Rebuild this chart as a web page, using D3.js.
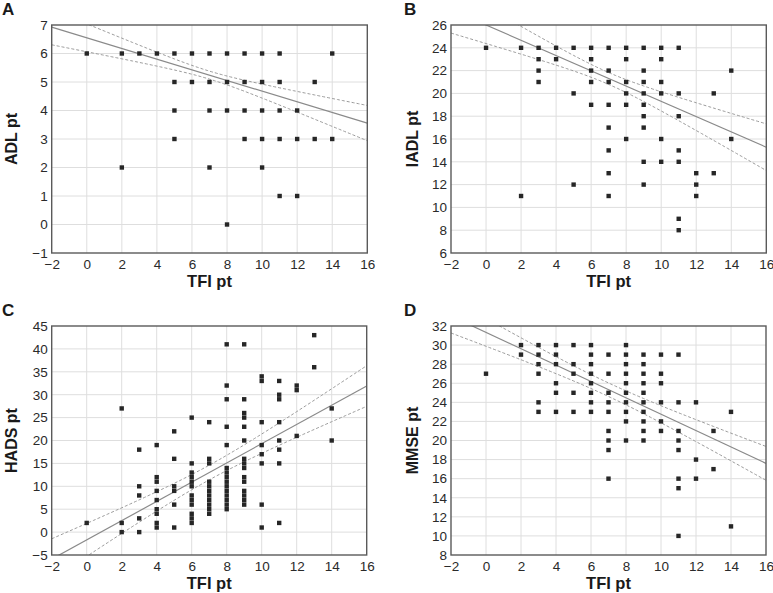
<!DOCTYPE html>
<html><head><meta charset="utf-8">
<script src="https://cdn.jsdelivr.net/npm/d3@7"></script>
<style>
body{margin:0;background:#fff}
svg{display:block;font-family:"Liberation Sans",Arial,Helvetica,sans-serif}
</style>
</head><body>
<svg id="chart" width="773" height="593"></svg>
<script>
// ---- data ----
const tfiTicks  = [-2,0,2,4,6,8,10,12,14,16];
const adlTicks  = [-1,0,1,2,3,4,5,6,7];
const iadlTicks = [6,8,10,12,14,16,18,20,22,24,26];
const hadsTicks = [-5,0,5,10,15,20,25,30,35,40,45];
const mmseTicks = [8,10,12,14,16,18,20,22,24,26,28,30,32];

// [TFI score, [scores observed at that TFI]]
const adlData = [[0,[6]],[2,[6,2]],[3,[6]],[4,[6]],[5,[6,5,4,3]],[6,[6,5]],[7,[6,5,4,2]],
  [8,[6,5,4,0]],[9,[6,5,4,3]],[10,[6,5,4,3,2]],[11,[6,5,4,3,1]],[12,[4,3,1]],[13,[5,3]],[14,[6,3]]];
const iadlData = [[0,[24]],[2,[24,11]],[3,[24,23,22,21]],[4,[24,23]],[5,[24,20,12]],
  [6,[24,23,22,21,19]],[7,[24,22,21,19,17,15,13,11]],[8,[24,23,21,20,19,16]],
  [9,[24,22,21,20,19,18,17,14,12]],[10,[24,23,21,20,16,14]],[11,[24,20,18,15,14,9,8]],
  [12,[13,12,11]],[13,[20,13]],[14,[22,16]]];
const hadsData = [[0,[2]],[2,[27,2,0]],[3,[18,10,8,3,0]],[4,[19,12,11,9,7,5,4,2,1]],
  [5,[22,16,10,9,6,1]],[6,[25,15,13,12,11,10,8,7,6,4,3,2]],[7,[24,16,15,11,10,9,8,7,6,5,4]],
  [8,[41,32,29,23,19,14,13,12,11,10,9,8,7,6,5]],[9,[41,29,26,25,23,20,16,15,14,12,11,9,8,7,6]],
  [10,[34,33,24,19,17,15,6,1]],[11,[33,30,29,24,20,18,15,2]],[12,[32,31,21]],[13,[43,36]],[14,[27,20]]];
const mmseData = [[0,[27]],[2,[30,29]],[3,[30,29,28,27,24,23]],[4,[30,29,28,26,25,23]],
  [5,[30,28,27,25,23]],[6,[30,29,28,27,26,25,24,23]],[7,[29,27,25,24,23,21,20,19,16]],
  [8,[30,29,28,27,26,25,24,23,22,20]],[9,[29,28,27,26,25,24,23,22,21,20]],
  [10,[29,27,26,24,22,21]],[11,[29,24,21,20,19,16,15,10]],[12,[24,18,16]],[13,[21,17]],[14,[23,11]]];

// regression fits: [intercept, slope]; confidence band: [mean TFI, half-width at mean, growth]
const adlFit  = [6.55, -0.187];  const adlBand  = [7, 0.14, 0.067];
const iadlFit = [26.0, -0.67];   const iadlBand = [7, 0.52, 0.22];
const hadsFit = [-1.7, 2.1];     const hadsBand = [7, 1.6, 0.46];
const mmseFit = [31.33, -0.858]; const mmseBand = [7, 0.71, 0.181];

// ---- layout ----
const panels = [
  {letter:'A', title:'ADL pt',  data:adlData,  ticks:adlTicks,  fit:adlFit,  band:adlBand,  box:[51.7,367.3,25,253],  lx:2,   ly:15,  tx:11},
  {letter:'B', title:'IADL pt', data:iadlData, ticks:iadlTicks, fit:iadlFit, band:iadlBand, box:[451,766.3,25,253],   lx:404, ly:15,  tx:412.5},
  {letter:'C', title:'HADS pt', data:hadsData, ticks:hadsTicks, fit:hadsFit, band:hadsBand, box:[51.7,366.7,326,555], lx:2,   ly:316, tx:11},
  {letter:'D', title:'MMSE pt', data:mmseData, ticks:mmseTicks, fit:mmseFit, band:mmseBand, box:[451,766,326,555],    lx:404, ly:316, tx:412.5}
];

const svg = d3.select('#chart');
const defs = svg.append('defs');

panels.forEach((p,i)=>{
  const [L,R,T,B] = p.box;
  const x = d3.scaleLinear().domain([tfiTicks[0], tfiTicks[tfiTicks.length-1]]).range([L,R]);
  const y = d3.scaleLinear().domain([p.ticks[0], p.ticks[p.ticks.length-1]]).range([B,T]);
  const g = svg.append('g');

  // grid
  g.append('g').selectAll('line').data(tfiTicks.slice(1,-1)).join('line')
    .attr('x1',d=>x(d)).attr('x2',d=>x(d)).attr('y1',T).attr('y2',B)
    .attr('stroke','#dedede').attr('stroke-width',1);
  g.append('g').selectAll('line').data(p.ticks.slice(1,-1)).join('line')
    .attr('x1',L).attr('x2',R).attr('y1',d=>y(d)).attr('y2',d=>y(d))
    .attr('stroke','#dedede').attr('stroke-width',1);

  // clip
  defs.append('clipPath').attr('id','clip'+i).append('rect')
    .attr('x',L).attr('y',T).attr('width',R-L).attr('height',B-T);

  // regression line and confidence band
  const [a0,a1] = p.fit, [xm,h0,hb] = p.band;
  const xs = d3.range(tfiTicks[0], tfiTicks[tfiTicks.length-1]+0.001, 0.1);
  const hw = t => Math.sqrt(h0*h0 + hb*hb*(t-xm)*(t-xm));
  const line = d3.line().x(d=>x(d[0])).y(d=>y(d[1]));
  const lg = g.append('g').attr('clip-path',`url(#clip${i})`);
  lg.append('path').attr('d', line(xs.map(t=>[t, a0+a1*t+hw(t)])))
    .attr('fill','none').attr('stroke','#9a9a9a').attr('stroke-width',1).attr('stroke-dasharray','3,2');
  lg.append('path').attr('d', line(xs.map(t=>[t, a0+a1*t-hw(t)])))
    .attr('fill','none').attr('stroke','#9a9a9a').attr('stroke-width',1).attr('stroke-dasharray','3,2');
  lg.append('path').attr('d', line([[xs[0], a0+a1*xs[0]],[xs[xs.length-1], a0+a1*xs[xs.length-1]]]))
    .attr('fill','none').attr('stroke','#8a8a8a').attr('stroke-width',1.2);

  // points
  const pts = p.data.flatMap(([t,vs])=>vs.map(v=>[t,v]));
  const s = 4.4;
  g.append('g').selectAll('rect').data(pts).join('rect')
    .attr('x',d=>x(d[0])-s/2).attr('y',d=>y(d[1])-s/2).attr('width',s).attr('height',s)
    .attr('fill','#262626');

  // frame
  g.append('rect').attr('x',L).attr('y',T).attr('width',R-L).attr('height',B-T)
    .attr('fill','none').attr('stroke','#5a5a5a').attr('stroke-width',1.4);

  // axes
  const ax = g.append('g').attr('transform',`translate(0,${B})`)
    .call(d3.axisBottom(x).tickValues(tfiTicks).tickSize(0).tickPadding(6));
  const ay = g.append('g').attr('transform',`translate(${L},0)`)
    .call(d3.axisLeft(y).tickValues(p.ticks).tickSize(0).tickPadding(4));
  [ax,ay].forEach(a=>{
    a.select('.domain').remove();
    a.selectAll('text').attr('font-size',13.5).attr('fill','#2a2a2a')
      .attr('font-family','"Liberation Sans",Arial,sans-serif');
  });

  // titles
  g.append('text').attr('x',(L+R)/2).attr('y',B+34).attr('text-anchor','middle')
    .attr('font-size',16.5).attr('font-weight','bold').attr('fill','#1a1a1a').text('TFI pt');
  g.append('text').attr('transform',`translate(${p.tx},${(T+B)/2}) rotate(-90)`)
    .attr('text-anchor','middle').attr('dominant-baseline','central')
    .attr('font-size',16).attr('font-weight','bold').attr('fill','#1a1a1a').text(p.title);
  g.append('text').attr('x',p.lx).attr('y',p.ly).attr('font-size',17).attr('font-weight','bold')
    .attr('fill','#1a1a1a').text(p.letter);
});
</script>
</body></html>
